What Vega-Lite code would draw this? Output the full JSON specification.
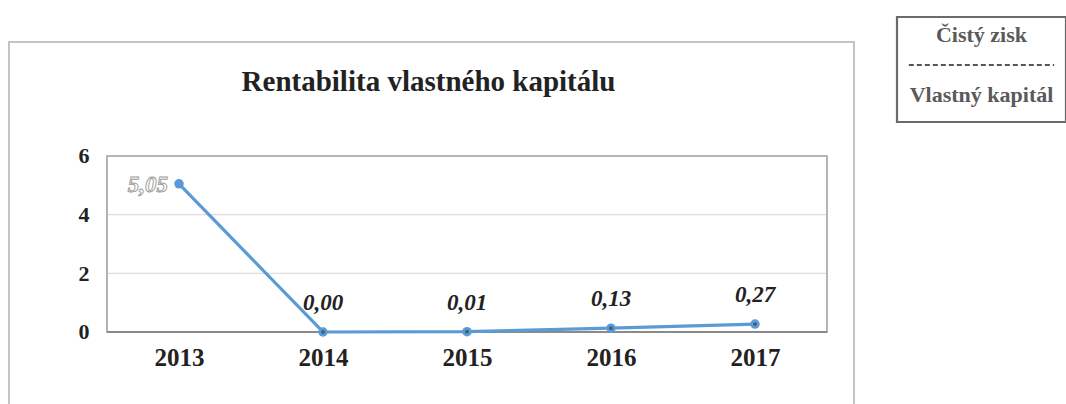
{
  "$schema": "https://vega.github.io/schema/vega-lite/v6.json",
  "padding": {"left": 8, "top": 15, "right": 0, "bottom": 0},
  "autosize": {"type": "pad"},
  "background": "white",
  "spacing": 40,
  "config": {
    "locale": {"number": {"decimal": ",", "thousands": " ", "grouping": [3], "currency": ["", " €"]}},
    "font": "Liberation Serif"
  },
  "hconcat": [
    {
      "width": 845,
      "height": 388,
      "view": {"stroke": null},
      "title": {"text": "Rentabilita vlastného kapitálu", "font": "Liberation Serif", "fontSize": 29, "fontWeight": "bold", "color": "#222", "offset": -80, "dx": -3},
      "data": {"values": [
        {"year": 2013, "value": 5.05},
        {"year": 2014, "value": 0.0},
        {"year": 2015, "value": 0.01},
        {"year": 2016, "value": 0.13},
        {"year": 2017, "value": 0.27}
      ]},
      "resolve": {"axis": {"x": "independent", "y": "independent"}},
      "layer": [
        {
          "mark": {"type": "rect", "fill": null, "fillOpacity": 0, "stroke": "#c4c4c4", "strokeWidth": 1.6},
          "encoding": {
            "x": {"datum": 2011.8194, "type": "quantitative", "scale": {"domain": [2011.8194, 2017.6875], "nice": false, "zero": false}, "axis": null},
            "x2": {"datum": 2017.6875},
            "y": {"datum": -2.62, "type": "quantitative", "scale": {"domain": [-2.489, 10.738], "nice": false, "zero": false}, "axis": null},
            "y2": {"datum": 9.886}
          }
        },
        {
          "data": {"values": [{"g": 2}, {"g": 4}]},
          "mark": {"type": "rule", "color": "#dedede", "strokeWidth": 1.2},
          "encoding": {
            "y": {"field": "g", "type": "quantitative", "scale": {"domain": [-2.489, 10.738], "nice": false, "zero": false}, "axis": null},
            "x": {"datum": 2012.5, "type": "quantitative", "scale": {"domain": [2011.8194, 2017.6875], "nice": false, "zero": false}, "axis": null},
            "x2": {"datum": 2017.5}
          }
        },
        {
          "mark": {"type": "rect", "fill": null, "fillOpacity": 0, "stroke": "#b5b5b5", "strokeWidth": 1.5},
          "encoding": {
            "x": {"datum": 2012.5, "type": "quantitative", "scale": {"domain": [2011.8194, 2017.6875], "nice": false, "zero": false}, "axis": null},
            "x2": {"datum": 2017.5},
            "y": {"datum": 0, "type": "quantitative", "scale": {"domain": [-2.489, 10.738], "nice": false, "zero": false}, "axis": null},
            "y2": {"datum": 6}
          }
        },
        {
          "mark": {"type": "rule", "color": "#8a8a8a", "strokeWidth": 1.5},
          "encoding": {
            "x": {"datum": 2012.5, "type": "quantitative", "scale": {"domain": [2011.8194, 2017.6875], "nice": false, "zero": false}, "axis": null},
            "x2": {"datum": 2017.5},
            "y": {"datum": 0, "type": "quantitative", "scale": {"domain": [-2.489, 10.738], "nice": false, "zero": false}, "axis": null}
          }
        },
        {
          "mark": {"type": "line", "color": "#5b9bd5", "strokeWidth": 3.2},
          "encoding": {
            "x": {"field": "year", "type": "quantitative", "scale": {"domain": [2011.8194, 2017.6875], "nice": false, "zero": false},
              "axis": {"orient": "bottom", "offset": -73, "values": [2013, 2014, 2015, 2016, 2017], "format": "d", "labelFont": "Liberation Serif", "labelFontSize": 25, "labelFontWeight": "bold", "labelColor": "#222", "labelPadding": 13, "domain": false, "ticks": false, "grid": false, "title": null, "labelFlush": false}},
            "y": {"field": "value", "type": "quantitative", "scale": {"domain": [-2.489, 10.738], "nice": false, "zero": false},
              "axis": {"orient": "left", "offset": -98, "values": [0, 2, 4, 6], "format": "d", "labelFont": "Liberation Serif", "labelFontSize": 22, "labelFontWeight": "bold", "labelColor": "#222", "labelPadding": 18, "domain": false, "ticks": false, "grid": false, "title": null, "labelFlush": false}}
          }
        },
        {
          "mark": {"type": "point", "shape": "circle", "filled": true, "size": 90, "color": "#5b9bd5", "opacity": 1},
          "encoding": {
            "x": {"field": "year", "type": "quantitative", "scale": {"domain": [2011.8194, 2017.6875], "nice": false, "zero": false}, "axis": null},
            "y": {"field": "value", "type": "quantitative", "scale": {"domain": [-2.489, 10.738], "nice": false, "zero": false}, "axis": null}
          }
        },
        {
          "transform": [{"filter": "datum.year > 2013"}],
          "mark": {"type": "point", "shape": "circle", "filled": true, "size": 14, "color": "#3d5f78", "opacity": 1},
          "encoding": {
            "x": {"field": "year", "type": "quantitative", "scale": {"domain": [2011.8194, 2017.6875], "nice": false, "zero": false}, "axis": null},
            "y": {"field": "value", "type": "quantitative", "scale": {"domain": [-2.489, 10.738], "nice": false, "zero": false}, "axis": null}
          }
        },
        {
          "transform": [{"filter": "datum.year > 2013"}],
          "mark": {"type": "text", "font": "Liberation Serif", "fontSize": 23, "fontWeight": "bold", "fontStyle": "italic", "color": "#222", "dy": -29, "baseline": "middle"},
          "encoding": {
            "x": {"field": "year", "type": "quantitative", "scale": {"domain": [2011.8194, 2017.6875], "nice": false, "zero": false}, "axis": null},
            "y": {"field": "value", "type": "quantitative", "scale": {"domain": [-2.489, 10.738], "nice": false, "zero": false}, "axis": null},
            "text": {"field": "value", "type": "quantitative", "format": ".2f"}
          }
        },
        {
          "transform": [{"filter": "datum.year == 2013"}],
          "mark": {"type": "text", "font": "Liberation Serif", "fontSize": 23, "fontWeight": "bold", "fontStyle": "italic", "fill": "#ffffff", "stroke": "#9a9a9a", "strokeWidth": 0.9, "align": "right", "dx": -11, "dy": 1, "baseline": "middle"},
          "encoding": {
            "x": {"field": "year", "type": "quantitative", "scale": {"domain": [2011.8194, 2017.6875], "nice": false, "zero": false}, "axis": null},
            "y": {"field": "value", "type": "quantitative", "scale": {"domain": [-2.489, 10.738], "nice": false, "zero": false}, "axis": null},
            "text": {"field": "value", "type": "quantitative", "format": ".2f"}
          }
        }
      ]
    },
    {
      "width": 169,
      "height": 105,
      "view": {"stroke": "#6a6a6a", "strokeWidth": 2.2},
      "data": {"values": [{"part": "Čistý zisk"}, {"part": "Vlastný kapitál"}]},
      "layer": [
        {
          "mark": {"type": "text", "font": "Liberation Serif", "fontSize": 22, "fontWeight": "bold", "color": "#5a5a5a"},
          "encoding": {
            "y": {"field": "part", "type": "nominal", "scale": {"type": "band", "domain": ["Čistý zisk", "Vlastný kapitál"], "range": [-12, 108], "paddingInner": 0, "paddingOuter": 0}, "axis": null},
            "text": {"field": "part", "type": "nominal"}
          }
        },
        {
          "transform": [{"filter": "datum.part == 'Vlastný kapitál'"}],
          "mark": {"type": "rule", "strokeDash": [5, 3], "color": "#555", "strokeWidth": 2},
          "encoding": {
            "y": {"field": "part", "type": "nominal", "bandPosition": 0, "scale": {"type": "band", "domain": ["Čistý zisk", "Vlastný kapitál"], "range": [-12, 108], "paddingInner": 0, "paddingOuter": 0}, "axis": null},
            "x": {"datum": 0.07, "type": "quantitative", "scale": {"domain": [0, 1], "nice": false}, "axis": null},
            "x2": {"datum": 0.93}
          }
        }
      ]
    }
  ]
}
